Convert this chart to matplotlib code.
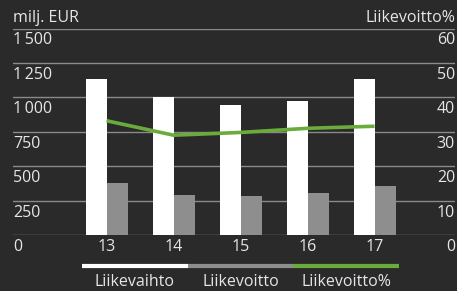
import matplotlib
matplotlib.use('Agg')
import matplotlib.pyplot as plt
import matplotlib.transforms as mtransforms
from matplotlib.lines import Line2D

plt.rcParams['font.family'] = ['Open Sans', 'DejaVu Sans']

years = ['13', '14', '15', '16', '17']
liikevaihto = [1133, 1002, 944, 973, 1133]   # milj. EUR
liikevoitto = [378, 291, 283, 305, 356]      # milj. EUR
liikevoitto_pct = [33.2, 29.0, 29.8, 31.0, 31.6]
left_ticks = [0, 250, 500, 750, 1000, 1250, 1500]
left_labels = ['0', '250', '500', '750', '1\u2009000', '1\u2009250', '1\u2009500']
right_labels = ['0', '10', '20', '30', '40', '50', '60']
legend_names = ['Liikevaihto', 'Liikevoitto', 'Liikevoitto%']

BG = '#2b2a2a'
WHITE = '#ffffff'
GRAY = '#8f8e8e'
GREEN = '#6aac3c'
GRID = '#8a8a8a'
TXT = '#e6e6e6'
FS = 11.5

W, H = 457, 291
fig = plt.figure(figsize=(W / 100, H / 100), dpi=100)
fig.patch.set_facecolor(BG)
ax = fig.add_axes([13 / W, (H - 235) / H, (455 - 13) / W, (235 - 28.5) / H])
ax.set_facecolor(BG)
for s in ax.spines.values():
    s.set_visible(False)
ax.set_xticks([])
ax.set_yticks([])

x = list(range(len(years)))
bw = 0.313
ax.bar([i - bw / 2 for i in x], liikevaihto, width=bw, color=WHITE, zorder=2)
ax.bar([i + bw / 2 for i in x], liikevoitto, width=bw, color=GRAY, zorder=2)

ax.set_xlim(-1.396, 5.201)
ax.set_ylim(0, 1500)

ax2 = ax.twinx()
ax2.set_ylim(0, 60)
ax2.axis('off')
ax2.plot(x, liikevoitto_pct, color=GREEN, lw=2.6, zorder=3, solid_capstyle='butt')

for t in left_ticks:
    ax.axhline(t, color=GRID, lw=1, zorder=1)

# labels sit just below their gridlines
trans = mtransforms.blended_transform_factory(ax.transAxes, ax.transData)
down = mtransforms.offset_copy(trans, fig=fig, x=0, y=-12, units='dots')
for t, ll, rl in zip(left_ticks, left_labels, right_labels):
    ax.text(0, t, ll, transform=down, ha='left', va='center', color=TXT, fontsize=FS)
    ax.text(1, t, rl, transform=down, ha='right', va='center', color=TXT, fontsize=FS)

xdown = mtransforms.offset_copy(ax.transData, fig=fig, x=0, y=-12, units='dots')
for i, yl in zip(x, years):
    ax.text(i, 0, yl, transform=xdown, ha='center', va='center', color=TXT, fontsize=FS)

up = mtransforms.offset_copy(trans, fig=fig, x=0, y=10, units='dots')
ax.text(0, 1500, 'milj. EUR', transform=up, ha='left', va='center', color=TXT, fontsize=FS)
ax.text(1, 1500, 'Liikevoitto%', transform=up, ha='right', va='center', color=TXT, fontsize=FS)

# legend: coloured strips with names below
seg_x = [82, 188, 293, 399]
for k, (name, col) in enumerate(zip(legend_names, [WHITE, GRAY, GREEN])):
    x0, x1 = seg_x[k] / W, seg_x[k + 1] / W
    fig.add_artist(Line2D([x0, x1], [(H - 265.7) / H] * 2, color=col, lw=3,
                          solid_capstyle='butt', transform=fig.transFigure))
    fig.text((x0 + x1) / 2, (H - 282) / H, name, ha='center', va='center',
             color=TXT, fontsize=FS)

fig.savefig('out.png', dpi=100, facecolor=BG)
